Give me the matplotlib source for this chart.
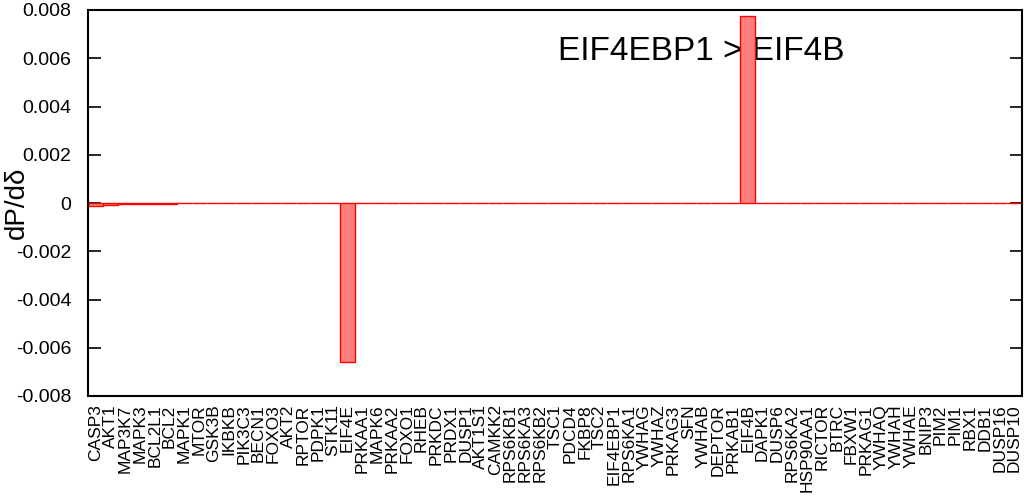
import matplotlib
matplotlib.use("Agg")
import matplotlib.pyplot as plt
from matplotlib.ticker import FixedLocator, FuncFormatter

plt.rcParams['font.family'] = ['Liberation Sans', 'DejaVu Sans']

genes = ["CASP3", "AKT1", "MAP3K7", "MAPK3", "BCL2L1", "BCL2", "MAPK1", "MTOR",
         "GSK3B", "IKBKB", "PIK3C3", "BECN1", "FOXO3", "AKT2", "RPTOR", "PDPK1",
         "STK11", "EIF4E", "PRKAA1", "MAPK6", "PRKAA2", "FOXO1", "RHEB", "PRKDC",
         "PRDX1", "DUSP1", "AKT1S1", "CAMKK2", "RPS6KB1", "RPS6KA3", "RPS6KB2",
         "TSC1", "PDCD4", "FKBP8", "TSC2", "EIF4EBP1", "RPS6KA1", "YWHAG", "YWHAZ",
         "PRKAG3", "SFN", "YWHAB", "DEPTOR", "PRKAB1", "EIF4B", "DAPK1", "DUSP6",
         "RPS6KA2", "HSP90AA1", "RICTOR", "BTRC", "FBXW1", "PRKAG1", "YWHAQ",
         "YWHAH", "YWHAE", "BNIP3", "PIM2", "PIM1", "RBX1", "DDB1", "DUSP16", "DUSP10"]

values = [-0.00012, -0.0001, -0.00005, -0.00004, -0.00003, -0.00003, -0.00002,
          -0.00002, -0.00002, -0.00002, -0.00002, -0.00001, -0.00001, -0.00001,
          -0.00001, -0.00001, -0.00001, -0.0066, 0, 0, 0, 0, 0, 0, 0, 0, 0, 0,
          0, 0, 0, 0, 0, 0, 0, 0, 0, 0, 0, 0, 0, 0, 0, 0, 0.00777, 0, 0, 0, 0,
          0, 0, 0, 0, 0, 0, 0, 0, 0, 0, 0, 0, 0, 0]

yticks = [-0.008, -0.006, -0.004, -0.002, 0, 0.002, 0.004, 0.006, 0.008]

annotation = "EIF4EBP1 > EIF4B"

fig = plt.figure(figsize=(10.24, 5.0), dpi=100)
ax = fig.add_axes([88 / 1024, 1 - 396 / 500, (1022 - 88) / 1024, (396 - 10) / 500])

x = list(range(1, len(genes) + 1))

ax.text(32.2, 0.0063, annotation, fontsize=24, ha='left', va='center', zorder=1)
ax.bar(x, values, width=1.0, color='#ff7f7f', edgecolor='#ff0000',
       linewidth=1.0, zorder=2)

ax.set_xlim(0.5, len(genes) + 0.5)
ax.set_ylim(-0.008, 0.008)
ax.set_xticks(x)
ax.set_xticklabels(genes, rotation=90, fontsize=12.5)
ax.tick_params(axis='x', length=0, pad=6)
ax.yaxis.set_major_locator(FixedLocator(yticks))
ax.yaxis.set_major_formatter(FuncFormatter(lambda v, p: "0" if abs(v) < 1e-12 else f"{v:.3f}"))
ax.tick_params(axis='y', direction='in', length=9, width=1.2, labelsize=14,
               left=True, right=True, pad=12)
for s in ax.spines.values():
    s.set_linewidth(1.5)

fig.text(17 / 1024, 1 - 203 / 500, "dP/d\u03b4", rotation=90, fontsize=20,
         ha='center', va='center')

fig.savefig("out.png", dpi=100)
